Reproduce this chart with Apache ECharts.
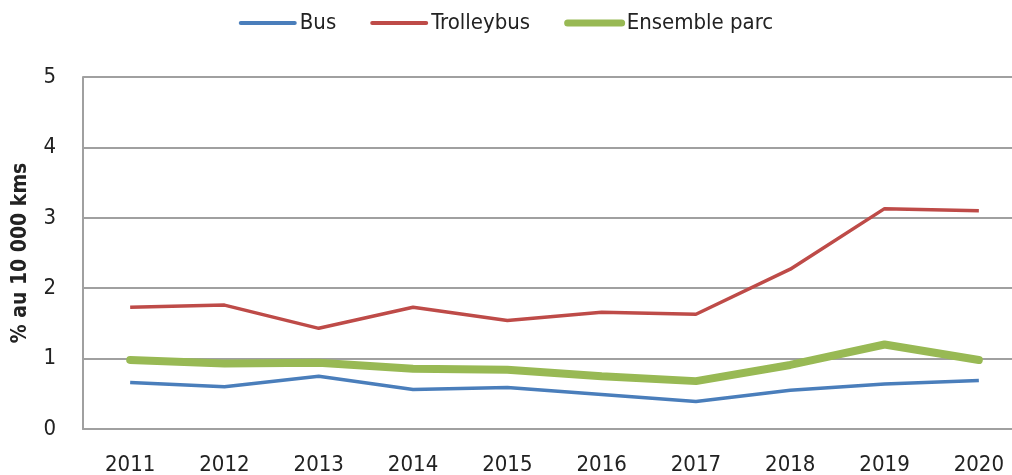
<!DOCTYPE html>
<html>
<head>
<meta charset="utf-8">
<script src="https://cdn.jsdelivr.net/npm/echarts@6/dist/echarts.min.js"></script>
<style>
  html, body { margin: 0; padding: 0; background: #fff; }
  #chart { width: 1012px; height: 475px; }
</style>
</head>
<body>
<div id="chart"></div>
<script>
const years = ['2011', '2012', '2013', '2014', '2015', '2016', '2017', '2018', '2019', '2020'];
const bus = [0.66, 0.60, 0.75, 0.56, 0.59, 0.49, 0.39, 0.55, 0.64, 0.69];
const trolleybus = [1.73, 1.76, 1.43, 1.73, 1.54, 1.66, 1.63, 2.27, 3.13, 3.10];
const ensemble = [0.98, 0.93, 0.94, 0.855, 0.84, 0.75, 0.68, 0.91, 1.20, 0.98];

const font = '"Liberation Sans Narrow", "DejaVu Sans Condensed", "Open Sans", sans-serif';

const chart = echarts.init(document.getElementById('chart'));
chart.setOption({
    animation: false,
    textStyle: { fontFamily: font },
    legend: {
        top: 7,
        left: 'center',
        itemGap: 34,
        itemWidth: 54,
        itemStyle: { opacity: 0 },
        textStyle: { fontSize: 22, color: '#222', fontFamily: font },
        data: [
            { name: 'Bus', lineStyle: { width: 4, color: '#4a7ebb', cap: 'round' } },
            { name: 'Trolleybus', lineStyle: { width: 4, color: '#be4b48', cap: 'round' } },
            { name: 'Ensemble parc', lineStyle: { width: 7, color: '#98b954', cap: 'round' } }
        ]
    },
    grid: { left: 83, right: -14, top: 77, bottom: 46, outerBoundsMode: 'none', containLabel: false },
    xAxis: {
        type: 'category',
        data: years,
        boundaryGap: true,
        axisLine: { lineStyle: { color: '#a0a0a0', width: 2 } },
        axisTick: { show: false },
        axisLabel: { fontSize: 22, color: '#222', margin: 25 }
    },
    yAxis: {
        type: 'value',
        min: 0,
        max: 5,
        interval: 1,
        name: '% au 10 000 kms',
        nameLocation: 'middle',
        nameGap: 52,
        nameTextStyle: { fontSize: 21, fontWeight: 'bold', color: '#222' },
        axisLine: { show: true, lineStyle: { color: '#a0a0a0', width: 2 } },
        axisTick: { show: false },
        axisLabel: { fontSize: 22, color: '#222', margin: 27 },
        splitLine: { lineStyle: { color: '#a0a0a0', width: 2 } }
    },
    series: [{
        name: 'Bus',
        type: 'line',
        data: bus,
        symbol: 'none',
        lineStyle: { color: '#4a7ebb', width: 3.5 },
        itemStyle: { color: '#4a7ebb' }
    }, {
        name: 'Trolleybus',
        type: 'line',
        data: trolleybus,
        symbol: 'none',
        lineStyle: { color: '#be4b48', width: 3.5 },
        itemStyle: { color: '#be4b48' }
    }, {
        name: 'Ensemble parc',
        type: 'line',
        data: ensemble,
        symbol: 'none',
        lineStyle: { color: '#98b954', width: 8, cap: 'round' },
        itemStyle: { color: '#98b954' }
    }]
});
</script>
</body>
</html>
